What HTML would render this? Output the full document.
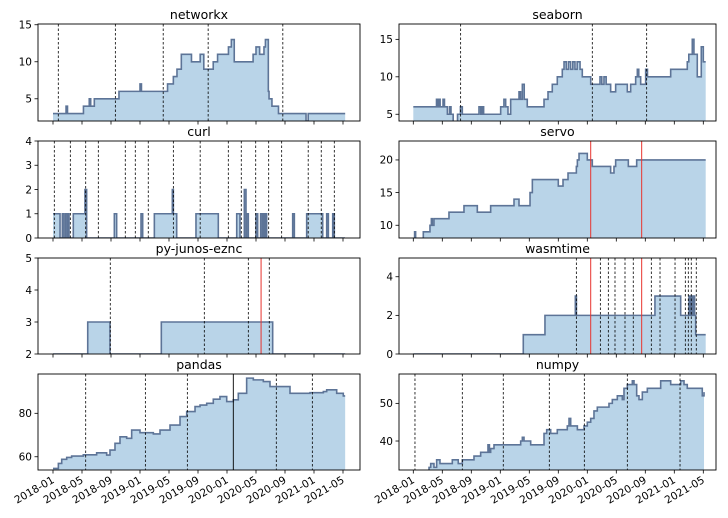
<!DOCTYPE html>
<html><head><meta charset="utf-8"><style>
body{margin:0;background:#fff;}
svg{display:block;font-family:"DejaVu Sans","Liberation Sans",sans-serif;}
</style></head><body>
<svg id="chart" width="728" height="518" viewBox="0 0 728 518" xmlns="http://www.w3.org/2000/svg"></svg>
<script>
// ---- data (t = months since 2018-01) ----
const tickLabels = ["2018-01","2018-05","2018-09","2019-01","2019-05","2019-09","2020-01","2020-05","2020-09","2021-01","2021-05"];
const tickMonths = [0,4,8,12,16,20,24,28,32,36,40];

const nxT = [0,1.8,2.0,4.2,5.0,5.2,5.7,9.1,12.0,12.2,15.8,16.6,17.1,17.7,19.1,20.3,20.8,22.1,22.7,24.2,24.6,25.0,27.6,28.0,28.5,29.1,29.3,29.7,29.8,30.2,31.1,34.9,35.2,40.3];
const nxV = [3,4,3,4,5,4,5,6,7,6,7,8,9,11,10,11,9,10,11,12,13,10,11,12,11,12,13,6,5,4,3,2,3,3];
const nxLines = [0.73,8.6,15.2,21.4,31.7];

const curlT = [0,0.97,1.29,1.52,1.75,1.98,2.02,2.21,2.8,4.41,4.64,8.46,8.78,12.14,12.37,13.98,16.46,16.6,17.06,19.72,22.8,25.34,25.79,26.39,26.62,26.71,26.94,28.0,28.23,28.64,28.87,29.0,29.2,29.3,29.47,33.06,33.29,34.99,37.2,37.75,37.98,38.58,38.8,40.28];
const curlV = [1,0,1,0,1,0,1,0,1,2,0,1,0,1,0,1,2,1,0,1,0,1,0,2,0,1,0,1,0,1,0,1,0,1,0,1,0,1,0,1,0,1,0,0];
const curlLines = [0.18,2.39,4.51,6.25,9.97,11.35,13.14,16.6,20.3,24.18,25.97,27.96,29.75,31.54,35.2,37.0,38.8];

const pyT = [0,4.79,7.86,14.94,30.3,40.3];
const pyV = [2,3,2,3,2,2];
const pyLines = [7.9,20.87,26.94,29.83];
const pyRed = [28.7];

const pdT = [0,0.74,1.2,1.89,2.57,4.18,6.02,7.4,7.86,8.55,9.24,10.16,10.85,12.0,13.84,14.76,16.14,17.52,18.44,19.59,20.28,21.2,22.11,23.03,23.96,24.87,25.56,26.71,27.63,29.01,29.93,31.77,32.69,35.45,37.29,37.75,39.13,40.04,40.3];
const pdV = [54.6,56.9,58.8,59.7,60.3,60.9,61.8,60.8,63.1,66.2,69.2,68.5,72.3,71.1,70.5,72.3,74.6,78.5,80.8,83.1,83.8,84.6,86.5,87.7,85.4,86.2,89.2,96.2,95.4,94.6,92.3,92.3,89.2,89.5,90,90.8,89.2,88,88];
const pdLines = [4.51,12.74,18.53,30.8,35.77];
const pdSolid = [24.87];

const sbT = [0,3.2,3.4,3.5,3.7,4.1,4.3,4.7,5.0,5.2,5.5,6.1,6.5,6.76,9.06,9.3,9.52,9.7,12.05,12.5,12.74,13.06,13.43,14.58,14.8,15.04,15.3,15.72,18.03,18.58,19.17,19.86,20.55,20.79,21.1,21.4,21.7,22.0,22.3,22.6,23.0,23.31,24.47,25.75,26.0,26.3,26.6,27.22,27.91,29.52,29.98,30.67,30.9,31.1,31.36,32.05,32.3,32.51,35.5,37.79,38.0,38.48,38.71,39.17,39.72,40.0,40.33];
const sbV = [6,7,6,7,6,7,6,5,6,5,4,5,6,5,6,5,6,5,6,7,6,5,7,8,7,9,7,6,7,8,9,10,11,12,11,12,11,12,11,12,11,10,9,10,9,10,9,8,9,8,9,10,11,10,9,11,10,10,11,12,13,15,13,10,14,12,12];
const sbLines = [6.53,24.69,32.19];

const svT = [0,0.18,0.32,1.38,2.3,2.49,2.62,2.85,4.92,6.99,8.83,10.67,13.89,14.58,16.1,16.42,20.0,20.65,21.34,22.49,22.63,22.86,24.0,24.69,27.22,27.68,27.91,29.66,30.81,40.33];
const svV = [8,9,8,9,10,11,10,11,12,13,12,13,14,13,15,17,16,17,18,19,20,21,20,19,18,19,20,19,20,20];
const svRed = [24.47,31.5];

const wsT = [0,15.17,18.16,22.35,22.5,33.33,36.88,38.03,38.2,38.35,38.5,38.65,38.8,38.95,40.33];
const wsV = [0,1,2,3,2,3,2,3,2,3,2,3,2,1,1];
const wsLines = [22.49,25.8,26.9,27.82,29.2,30.34,32.83,34.03,36.1,37.52,37.93,38.34,39.03];
const wsRed = [24.47,31.5];

const npT = [0,2.17,2.4,2.85,3.22,3.68,5.38,6.2,6.76,8.37,9.29,10.3,10.5,10.67,11.13,12.28,14.81,15.04,15.27,16.19,18.03,18.4,18.95,19.86,21.24,21.48,21.71,22.63,23.55,24.0,24.47,24.92,25.38,26.99,27.45,28.14,28.83,29.06,29.52,30.21,30.44,30.81,31.13,31.59,32.28,34.12,35.5,36.88,37.34,37.79,39.86,40.1];
const npV = [32,33,34,33,35,34,35,34,35,36,37,39,37,38,39,39,40,41,40,39,42,43,42,43,44,46,44,43,44,45,46,48,49,50,51,52,51,54,55,56,55,52,51,53,54,56,55,56,55,54,52,53];
const npLines = [0.23,6.76,12.41,18.76,23.59,29.52,36.79];

// ---- layout ----
const NS = "http://www.w3.org/2000/svg";
const svg = document.getElementById('chart');
const FILL = "#b9d4e8", LINE = "#5d7497";
const LX = [38,360], RX = [399,716];
const panels = [
 {name:"networkx", cx:LX, cy:[24,121], ylim:[2,15.1], yt:[5,10,15], T:nxT, V:nxV, dash:nxLines, red:[], solid:[]},
 {name:"curl", cx:LX, cy:[141,238], ylim:[0,4], yt:[0,1,2,3,4], T:curlT, V:curlV, dash:curlLines, red:[], solid:[]},
 {name:"py-junos-eznc", cx:LX, cy:[258,354], ylim:[2,5], yt:[2,3,4,5], T:pyT, V:pyV, dash:pyLines, red:pyRed, solid:[]},
 {name:"pandas", cx:LX, cy:[374,470], ylim:[53.9,98.1], yt:[60,80], T:pdT, V:pdV, dash:pdLines, red:[], solid:pdSolid, bottom:true},
 {name:"seaborn", cx:RX, cy:[24,121], ylim:[4.1,17.05], yt:[5,10,15], T:sbT, V:sbV, dash:sbLines, red:[], solid:[]},
 {name:"servo", cx:RX, cy:[141,238], ylim:[8.05,22.9], yt:[10,15,20], T:svT, V:svV, dash:[], red:svRed, solid:[]},
 {name:"wasmtime", cx:RX, cy:[258,354], ylim:[0,4.97], yt:[0,2,4], T:wsT, V:wsV, dash:wsLines, red:wsRed, solid:[]},
 {name:"numpy", cx:RX, cy:[374,470], ylim:[32.3,57.8], yt:[40,50], T:npT, V:npV, dash:npLines, red:[], solid:[], bottom:true}
];

function mk(tag, attrs, parent){
  const e = document.createElementNS(NS, tag);
  for (const k in attrs) e.setAttribute(k, attrs[k]);
  (parent||svg).appendChild(e);
  return e;
}

panels.forEach((p, i) => {
  const x0 = p.cx[0], x1 = p.cx[1], yTop = p.cy[0], yBot = p.cy[1];
  const ox = (x0 === 38) ? 53 : 413.3;
  const xs = t => ox + t * 7.25;
  const ys = v => yBot - (v - p.ylim[0]) / (p.ylim[1] - p.ylim[0]) * (yBot - yTop);
  const g = mk('g', {});
  
  
  const clipId = 'clip' + i;
  const cp = mk('clipPath', {id: clipId}, g);
  mk('rect', {x:x0, y:yTop, width:x1-x0, height:yBot-yTop}, cp);
  const plot = mk('g', {'clip-path':'url(#' + clipId + ')'}, g);
  let d = '';
  for (let k = 0; k < p.T.length; k++) {
    const x = xs(p.T[k]), y = ys(p.V[k]);
    if (k === 0) d += 'M' + x + ',' + y;
    else d += 'H' + x + 'V' + y;
  }
  const fd = d + 'V' + (yBot + 5) + 'H' + xs(p.T[0]) + 'Z';
  const area = mk('path', {d: fd, fill: FILL, stroke: 'none'}, plot);
  
  
  const line = mk('path', {d: d, fill: 'none', stroke: LINE, 'stroke-width': 1.6, 'stroke-linejoin': 'miter'}, plot);
  
  
  p.dash.forEach(t => {
    const l = mk('line', {x1: xs(t), x2: xs(t), y1: yTop, y2: yBot, stroke: '#000', 'stroke-width': 0.8, 'stroke-dasharray': '2.5,2'}, plot);
    
    
  });
  p.solid.forEach(t => {
    const l = mk('line', {x1: xs(t), x2: xs(t), y1: yTop, y2: yBot, stroke: '#000', 'stroke-width': 0.9}, plot);
    
    
  });
  p.red.forEach(t => {
    const l = mk('line', {x1: xs(t), x2: xs(t), y1: yTop, y2: yBot, stroke: '#e8332e', 'stroke-width': 1}, plot);
    
    
  });
  const fr = mk('rect', {x:x0, y:yTop, width:x1-x0, height:yBot-yTop, fill:'none', stroke:'#000', 'stroke-width':0.9}, g);
  
  
  const tt = mk('text', {x:(x0+x1)/2, y:yTop-5, 'text-anchor':'middle', 'font-size':12.5, fill:'#000'}, g);
  tt.textContent = p.name;
  
  
  p.yt.forEach(v => {
    const y = ys(v);
    mk('line', {x1:x0-3.5, x2:x0, y1:y, y2:y, stroke:'#000', 'stroke-width':0.8}, g);
    const tl = mk('text', {x:x0-6, y:y+3.8, 'text-anchor':'end', 'font-size':10.5, fill:'#000'}, g);
    tl.textContent = v;
    
    
  });
  tickMonths.forEach((m, k) => {
    const x = xs(m);
    mk('line', {x1:x, x2:x, y1:yBot, y2:yBot+3.5, stroke:'#000', 'stroke-width':0.8}, g);
    if (p.bottom) {
      const tl = mk('text', {x:x+2, y:yBot+12, 'text-anchor':'end', 'font-size':10.5, fill:'#000', transform:'rotate(-30 ' + (x+2) + ' ' + (yBot+12) + ')'}, g);
      tl.textContent = tickLabels[k];
      
      
    }
  });
});
</script>
</body></html>
